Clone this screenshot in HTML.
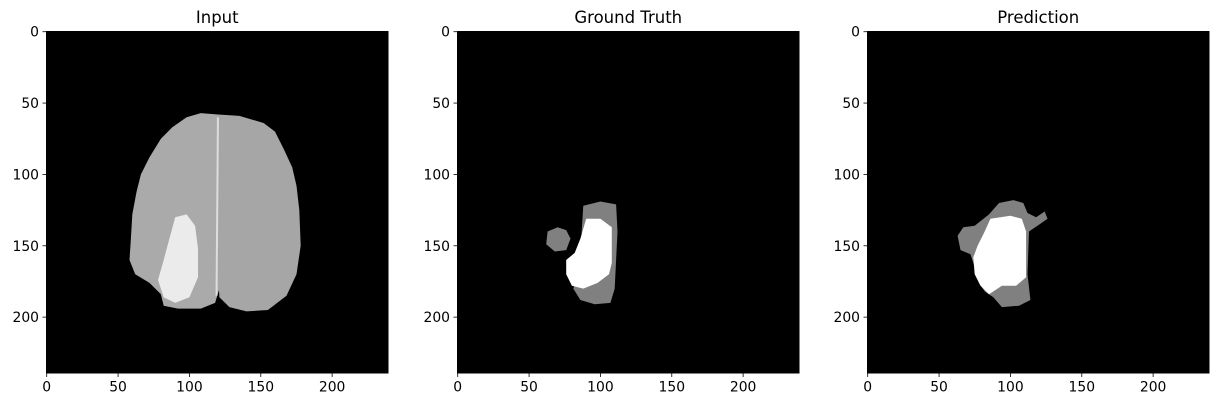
<!DOCTYPE html>
<html><head><meta charset="utf-8"><style>body{margin:0;background:#fff}svg{display:block}text{font-family:"DejaVu Sans","Liberation Sans",sans-serif;fill:#000}</style></head>
<body>
<svg id="fig" width="1222" height="407" viewBox="0 0 1222 407" xmlns="http://www.w3.org/2000/svg"></svg>
<script>
const panelTitles = ["Input", "Ground Truth", "Prediction"];
const panelLefts = [46, 457, 867];
const xTicks = [0, 50, 100, 150, 200];
const yTicks = [0, 50, 100, 150, 200];
const imgSize = 240;
// shapes in image (data) coordinates [x,y,...]
const brainLeft = [[120,58],[108,57],[98,60],[88,67],[80,75],[72,88],[66,100],[63,112],[60,128],[59,145],[58,160],[62,170],[72,176],[80,184],[82,192],[92,194],[108,194],[118,190],[121,180]];
const brainRight = [[120,58],[135,59],[152,64],[160,70],[166,82],[172,95],[175,108],[177,125],[178,150],[175,170],[168,185],[155,195],[140,196],[128,193],[121,186],[119,150]];
const inputTumor = [[90,130],[98,128],[104,136],[106,152],[106,172],[100,186],[90,190],[82,186],[78,174],[82,160],[86,145]];
const gtGray = [[[70,137],[76,139],[79,145],[76,153],[68,154],[62,149],[63,140]],[[88,122],[100,119],[111,121],[112,140],[110,180],[107,190],[96,191],[86,188],[81,180],[85,170]]];
const gtWhite = [[[90,131],[100,131],[108,137],[108,162],[106,170],[98,176],[88,180],[80,178],[76,170],[76,160],[82,155],[86,145]]];
const prGray = [[[85,128],[92,120],[102,118],[109,120],[112,127],[118,130],[124,126],[126,131],[119,136],[113,140],[112,170],[114,188],[106,192],[94,193],[88,186],[82,182],[78,176],[75,165],[72,156],[65,153],[63,143],[67,137],[75,136]]];
const prWhite = [[[86,131],[100,129],[108,131],[111,140],[111,172],[104,178],[94,178],[85,184],[79,178],[75,170],[74,158],[77,150],[82,140]]];
const svg = document.getElementById('fig');
const NS = "http://www.w3.org/2000/svg";
const top0 = 31, size = 342.5, scale = size / imgSize;
function mk(tag, attrs, parent) { const e = document.createElementNS(NS, tag); for (const k in attrs) e.setAttribute(k, attrs[k]); (parent || svg).appendChild(e); return e; }
function sx(p, v) { return panelLefts[p] + (v + 0.5) * scale; }
function sy(v) { return top0 + (v + 0.5) * scale; }
function poly(p, pts, fill, name) {
  const e = mk('polygon', { points: pts.map(q => sx(p, q[0]).toFixed(1) + ',' + sy(q[1]).toFixed(1)).join(' '), fill: fill });
  
  
}
panelTitles.forEach((t, p) => {
  const L = panelLefts[p];
  const bg = mk('rect', { x: L, y: top0, width: size, height: size, fill: '#000' });
  
  
  const tt = mk('text', { x: L + size / 2, y: 23, 'font-size': 16.5, 'text-anchor': 'middle' });
  tt.textContent = t;
  
  
  xTicks.forEach(v => {
    mk('line', { x1: sx(p, v), x2: sx(p, v), y1: top0 + size, y2: top0 + size + 3.5, stroke: '#000', 'stroke-width': 0.8 });
    const tx = mk('text', { x: sx(p, v), y: top0 + size + 18, 'font-size': 13.9, 'text-anchor': 'middle' });
    tx.textContent = v;
    
    
  });
  yTicks.forEach(v => {
    mk('line', { x1: L - 3.5, x2: L, y1: sy(v), y2: sy(v), stroke: '#000', 'stroke-width': 0.8 });
    const ty = mk('text', { x: L - 7, y: sy(v) + 5, 'font-size': 13.9, 'text-anchor': 'end' });
    ty.textContent = v;
    
    
  });
});
poly(0, brainLeft, '#aaaaaa', 'brain-left-hemisphere');
poly(0, brainRight, '#a6a6a6', 'brain-right-hemisphere');
poly(0, inputTumor, '#ebebeb', 'tumor-enhancement');
mk('line', { x1: sx(0, 120), x2: sx(0, 119), y1: sy(60), y2: sy(185), stroke: '#ddd', 'stroke-width': 2 });
gtGray.forEach(s => poly(1, s, '#808080', 'gt-edema'));
gtWhite.forEach(s => poly(1, s, '#ffffff', 'gt-tumor-core'));
prGray.forEach(s => poly(2, s, '#808080', 'pred-edema'));
prWhite.forEach(s => poly(2, s, '#ffffff', 'pred-tumor-core'));
</script>
</body></html>
